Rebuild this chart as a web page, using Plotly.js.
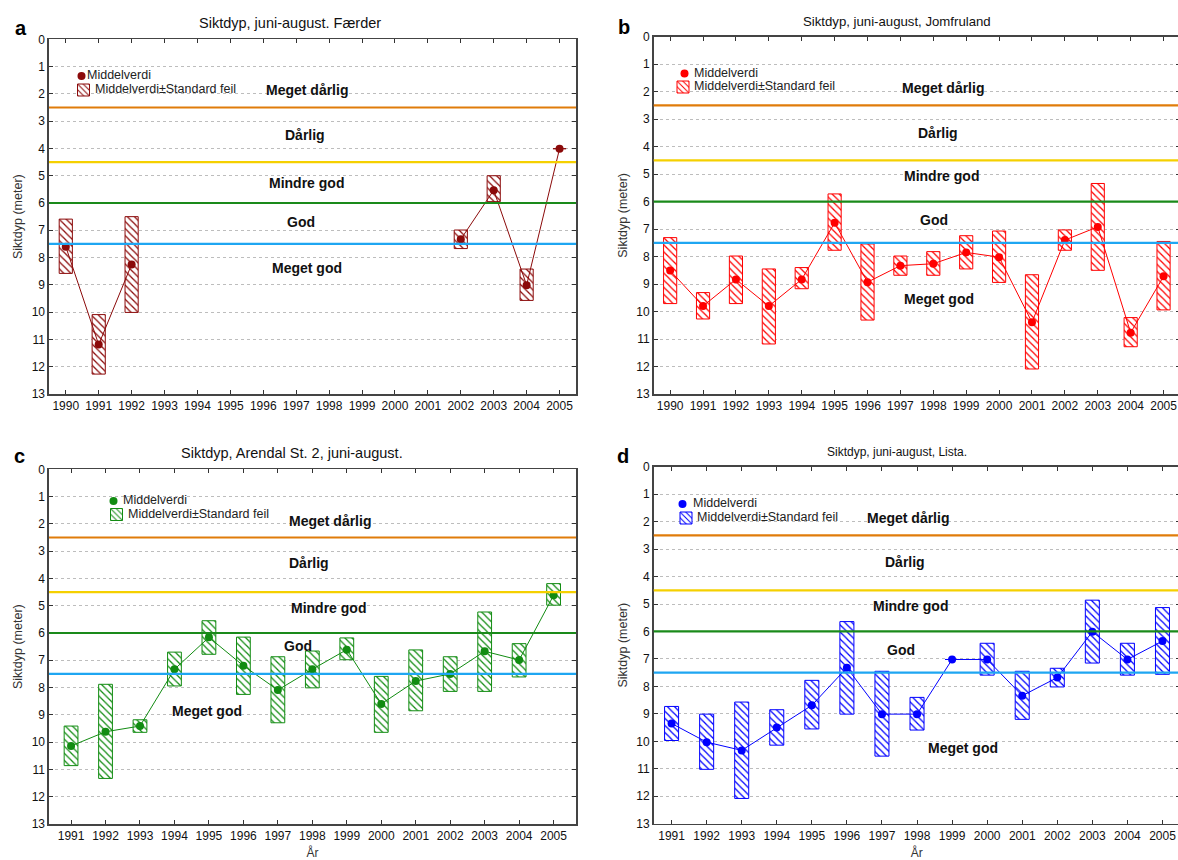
<!DOCTYPE html>
<html>
<head>
<meta charset="utf-8">
<script src="https://cdn.plot.ly/plotly-3.0.1.min.js"></script>
<style>html,body{margin:0;padding:0;background:#fff;overflow:hidden}#chart{width:1184px;height:860px}</style>
</head>
<body>
<div id="chart"></div>
<script>
// ---------- DATA ----------
const yearsA = [1990,1991,1992,1993,1994,1995,1996,1997,1998,1999,2000,2001,2002,2003,2004,2005];
const meanA  = [7.60,11.19,8.25,null,null,null,null,null,null,null,null,null,7.33,5.53,9.01,4.01];
const topA   = [6.59,10.09,6.50,null,null,null,null,null,null,null,null,null,6.99,5.00,8.42,4.01];
const botA   = [8.58,12.27,10.01,null,null,null,null,null,null,null,null,null,7.67,5.95,9.57,4.01];

const yearsB = [1990,1991,1992,1993,1994,1995,1996,1997,1998,1999,2000,2001,2002,2003,2004,2005];
const meanB  = [8.51,9.80,8.83,9.80,8.83,6.77,8.93,8.33,8.26,7.85,8.02,10.39,7.40,6.92,10.77,8.72];
const topB   = [7.31,9.31,7.98,8.45,8.40,5.72,7.54,7.98,7.82,7.24,7.07,8.66,7.03,5.34,10.22,7.45];
const botB   = [9.71,10.27,9.71,11.18,9.17,7.77,10.31,8.68,8.68,8.45,8.94,12.09,7.77,8.50,11.28,9.94];

const yearsC = [1991,1992,1993,1994,1995,1996,1997,1998,1999,2000,2001,2002,2003,2004,2005];
const meanC  = [10.14,9.62,9.41,7.33,6.16,7.20,8.09,7.33,6.61,8.60,7.76,7.50,6.67,6.99,4.62];
const topC   = [9.41,7.88,9.18,6.70,5.55,6.15,6.87,6.66,6.18,7.59,6.62,6.87,5.23,6.39,4.19];
const botC   = [10.86,11.33,9.64,7.94,6.78,8.25,9.29,8.01,6.98,9.64,8.85,8.14,8.14,7.61,4.98];

const yearsD = [1991,1992,1993,1994,1995,1996,1997,1998,1999,2000,2001,2002,2003,2004,2005];
const meanD  = [9.35,10.03,10.33,9.50,8.69,7.32,9.01,9.01,7.02,7.02,8.34,7.68,6.01,7.02,6.35];
const topD   = [8.73,9.01,8.57,8.85,7.78,5.64,7.45,8.40,7.02,6.43,7.45,7.34,4.86,6.43,5.13];
const botD   = [9.97,11.02,12.08,10.14,9.55,9.01,10.54,9.59,7.02,7.59,9.20,8.02,7.15,7.59,7.56];

const thresholds = [2.5, 4.5, 6, 7.5];
const classLabels = ["Meget dårlig","Dårlig","Mindre god","God","Meget god"];
const titles = ["Siktdyp, juni-august. Færder","Siktdyp, juni-august, Jomfruland","Siktdyp, Arendal St. 2, juni-august.","Siktdyp, juni-august, Lista."];
const panelLetters = ["a","b","c","d"];
const yTicks = [0,1,2,3,4,5,6,7,8,9,10,11,12,13];
const meanName = "Middelverdi";
const seName = "Middelverdi±Standard feil";
const yTitle = "Siktdyp (meter)";
const xTitle = "År";

// ---------- STYLE / LAYOUT ----------
const W = 1184, H = 860;
const panels = [
  {years:yearsA, mean:meanA, top:topA, bot:botA, color:'#8B0A0A', xr:[1989.49,2005.5], dom:[49,576,39.3,394], showX:false, titleSize:14.5, titlePos:[290,23], letter:[21,28],
   sym1:[81,75], txt1:85, sym2:[83,89], txt2:93,
   lab:[[1997.33,1.86],[1997.28,3.51],[1997.3,5.27],[1997.14,6.71],[1997.33,8.40]]},
  {years:yearsB, mean:meanB, top:topB, bot:botB, color:'#FF0000', xr:[1989.5,2005.5], dom:[653.7,1180,36.7,394], showX:false, titleSize:13.2, titlePos:[897,22], letter:[624,27],
   sym1:[684,72.5], txt1:692, sym2:[682.5,86], txt2:692,
   lab:[[1998.28,1.88],[1998.14,3.52],[1998.25,5.07],[1998.03,6.67],[1998.17,9.54]]},
  {years:yearsC, mean:meanC, top:topC, bot:botC, color:'#128C12', xr:[1990.36,2005.65], dom:[49,576,469.3,824], showX:true, titleSize:14.5, titlePos:[292,453], letter:[19,456],
   sym1:[113,500], txt1:121, sym2:[116,513.5], txt2:126,
   lab:[[1998.5,1.89],[1997.91,3.45],[1998.46,5.09],[1997.57,6.48],[1994.94,8.86]]},
  {years:yearsD, mean:meanD, top:topD, bot:botD, color:'#0000FF', xr:[1990.49,2005.5], dom:[653.7,1180,466.7,823.7], showX:true, titleSize:12, titlePos:[897,452], letter:[623,456],
   sym1:[682,503], txt1:691, sym2:[685.5,517], txt2:695,
   lab:[[1997.74,1.88],[1997.65,3.48],[1997.81,5.07],[1997.53,6.68],[1999.31,10.26]]}
];
const lineColors = ['#E07C0A','#F5D000','#1A8A1A','#1EA6F2'];
const FONT = 'Liberation Sans, Arial, sans-serif';

const data = [];
const layout = {
  width: W, height: H,
  margin: {l:0, r:0, t:0, b:0},
  paper_bgcolor: '#fff', plot_bgcolor: '#fff',
  font: {family: FONT, size: 11, color: '#111'},
  showlegend: true,
  bargap: 0,
  barmode: 'overlay',
  shapes: [], annotations: []
};

function legendKey(k) { return k === 1 ? 'legend' : 'legend' + k; }
// native legend carries only the symbol; its text is drawn as an annotation for exact spacing
function legendCfg(sym) {
  return {
    x: (sym[0] - 19.5)/W, y: 1 - (sym[1] - 13.5)/H, xanchor: 'left', yanchor: 'top',
    bgcolor: 'rgba(0,0,0,0)', borderwidth: 0,
    font: {size: 11, family: FONT, color: '#222'},
    tracegroupgap: 0, itemwidth: 30
  };
}

panels.forEach((p, i) => {
  const n = i + 1;
  const xa = n === 1 ? 'x' : 'x' + n;
  const ya = n === 1 ? 'y' : 'y' + n;
  const xk = n === 1 ? 'xaxis' : 'xaxis' + n;
  const yk = n === 1 ? 'yaxis' : 'yaxis' + n;
  const lk1 = legendKey(2*i + 1);
  const lk2 = legendKey(2*i + 2);

  const heights = p.top.map((t, j) => (t === null ? null : p.bot[j] - t));
  data.push({
    type: 'bar', x: p.years, y: heights, base: p.top, width: 0.4,
    xaxis: xa, yaxis: ya, name: ' ', legend: lk2,
    marker: {color: '#ffffff', line: {color: p.color, width: 1},
             pattern: {shape: '\\', fgcolor: p.color, bgcolor: '#ffffff', size: 5, solidity: 0.25}},
    hoverinfo: 'skip'
  });
  // connecting line of the means
  data.push({
    type: 'scatter', mode: 'lines', x: p.years, y: p.mean,
    xaxis: xa, yaxis: ya, showlegend: false, connectgaps: false,
    line: {color: p.color, width: 1}, hoverinfo: 'skip'
  });
  // mean markers (legend symbol)
  data.push({
    type: 'scatter', mode: 'markers', x: p.years, y: p.mean,
    xaxis: xa, yaxis: ya, name: ' ', legend: lk1,
    marker: {color: p.color, size: 8, symbol: 'circle'},
    hoverinfo: 'skip'
  });

  const d = p.dom;
  layout[xk] = {
    domain: [d[0]/W, d[1]/W], range: p.xr, anchor: ya,
    tickmode: 'array', tickvals: p.years, ticktext: p.years.map(String),
    ticks: 'inside', ticklen: 4, tickcolor: '#333', tickwidth: 1,
    showline: true, linecolor: '#444', linewidth: 1.6, mirror: 'ticks',
    showgrid: false, zeroline: false,
    tickfont: {size: 12, family: FONT, color: '#111'},
    title: p.showX ? {text: xTitle, font: {size: 12, family: FONT, color: '#333'}, standoff: 7} : {text: ''},
    fixedrange: true
  };
  layout[yk] = {
    domain: [1 - d[3]/H, 1 - d[2]/H], range: [13, 0], anchor: xa,
    tickmode: 'array', tickvals: yTicks,
    ticks: 'inside', ticklen: 4, tickcolor: '#333', tickwidth: 1,
    showline: true, linecolor: '#444', linewidth: 1.6, mirror: 'ticks',
    showgrid: true, gridcolor: '#bdbdbd', griddash: 'dot', gridwidth: 1,
    zeroline: false,
    tickfont: {size: 12, family: FONT, color: '#111'},
    title: {text: yTitle, font: {size: 12.5, family: FONT, color: '#333'}, standoff: 6},
    fixedrange: true
  };
  layout[lk1] = legendCfg(p.sym1);
  layout[lk2] = legendCfg(p.sym2);

  // legend texts
  [[meanName, p.txt1, p.sym1[1]], [seName, p.txt2, p.sym2[1]]].forEach(([t, x, y]) => {
    layout.annotations.push({
      text: t, xref: 'paper', yref: 'paper', x: x/W, y: 1 - y/H,
      showarrow: false, font: {size: 12.5, family: FONT, color: '#222'},
      xanchor: 'left', yanchor: 'middle'
    });
  });

  thresholds.forEach((t, k) => {
    layout.shapes.push({
      type: 'line', xref: xa + ' domain', yref: ya, x0: 0, x1: 1, y0: t, y1: t,
      line: {color: lineColors[k], width: 2.2}, layer: 'above'
    });
  });

  classLabels.forEach((lbl, k) => {
    layout.annotations.push({
      text: '<b>' + lbl + '</b>', xref: xa, yref: ya, x: p.lab[k][0], y: p.lab[k][1],
      showarrow: false, font: {size: 14, family: FONT, color: '#111'},
      xanchor: 'center', yanchor: 'middle'
    });
  });

  layout.annotations.push({
    text: titles[i], xref: 'paper', yref: 'paper', x: p.titlePos[0]/W, y: 1 - p.titlePos[1]/H,
    showarrow: false, font: {size: p.titleSize, family: FONT, color: '#111'},
    xanchor: 'center', yanchor: 'middle'
  });
  layout.annotations.push({
    text: '<b>' + panelLetters[i] + '</b>', xref: 'paper', yref: 'paper', x: p.letter[0]/W, y: 1 - p.letter[1]/H,
    showarrow: false, font: {size: 20, family: FONT, color: '#000'},
    xanchor: 'center', yanchor: 'middle'
  });
});

Plotly.newPlot('chart', data, layout, {displayModeBar: false, staticPlot: true});
</script>
</body>
</html>
